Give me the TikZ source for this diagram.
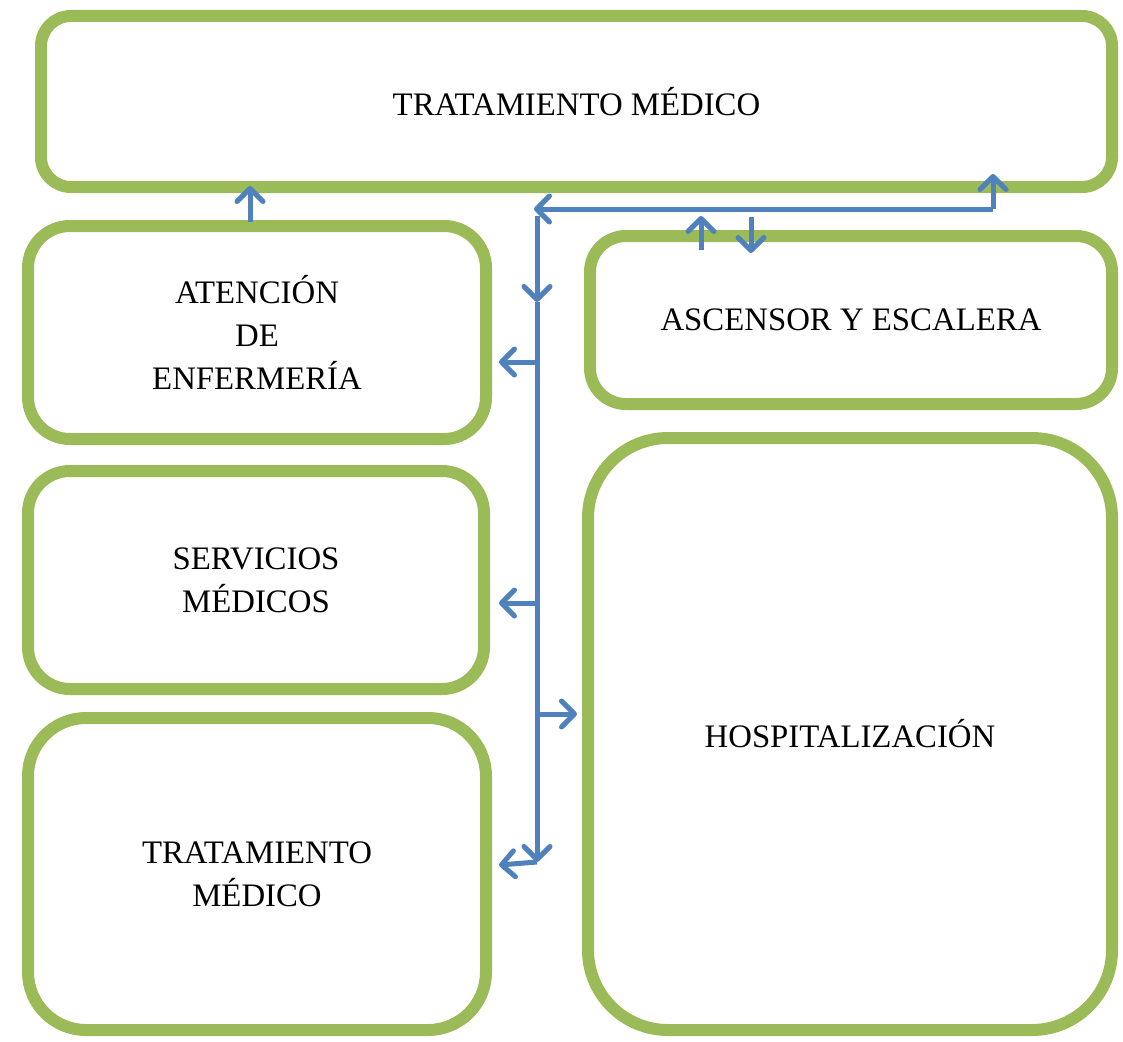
\documentclass[tikz,border=0pt]{standalone}
\usepackage{fontspec}
\setmainfont{Liberation Serif}
\usetikzlibrary{arrows.meta}
\definecolor{boxgreen}{RGB}{155,187,89}
\definecolor{arrowblue}{RGB}{79,129,189}
\tikzset{
  room/.style={draw=boxgreen, line width=12pt, align=center, inner sep=0pt,
    font=\fontsize{32.8}{43}\selectfont},
  flow/.style={draw=arrowblue, line width=5pt,
    -{Straight Barb[length=13pt, width=26pt, line cap=round, line join=round]}},
  trunk/.style={draw=arrowblue, line width=5pt}
}
\begin{document}
\begin{tikzpicture}[x=1pt, y=-1pt]
\useasboundingbox (0,0) rectangle (1123,1041);
% boxes
\node[room, rounded corners=30pt, minimum width=1071pt, minimum height=171pt] (top) at (576.5,101.5) {TRATAMIENTO MÉDICO};
\node[room, rounded corners=42pt, minimum width=458pt, minimum height=213pt] (aten) at (257,332.5) {ATENCIÓN\\DE\\ENFERMERÍA};
\node[room, rounded corners=42pt, minimum width=456pt, minimum height=218pt] (serv) at (256,580) {SERVICIOS\\MÉDICOS};
\node[room, rounded corners=58pt, minimum width=458pt, minimum height=312pt] (trat) at (257,874) {TRATAMIENTO\\MÉDICO};
\node[room, rounded corners=36pt, minimum width=522pt, minimum height=168pt] (asc) at (851,320) {ASCENSOR Y ESCALERA};
\node[room, rounded corners=80pt, minimum width=524pt, minimum height=592pt] (hosp) at (850,734) {HOSPITALIZACIÓN};
% coordinates
\coordinate (r1) at (993,209);
\coordinate (r1tip) at (993,174);
\coordinate (l1tip) at (534,209);
\coordinate (v0) at (537,216);
\coordinate (v1) at (537,302);
\coordinate (v2) at (537,862);
\coordinate (a1) at (537,362);
\coordinate (a1tip) at (499,362);
\coordinate (a2) at (537,603);
\coordinate (a2tip) at (499,603);
\coordinate (a3) at (537,714);
\coordinate (a3tip) at (577,714);
\coordinate (a4tip) at (499,865);
\coordinate (u1a) at (701,250);
\coordinate (u1b) at (701,216);
\coordinate (d1a) at (751,217);
\coordinate (d1b) at (751,253);
\coordinate (t1a) at (250,222);
\coordinate (t1b) at (250,186);
% connectors
\draw[flow] (r1) -- (l1tip);
\draw[flow] (r1) -- (r1tip);
\draw[flow] (v0) -- (v1);
\draw[flow] (v1) -- (v2);
\draw[flow] (a1) -- (a1tip);
\draw[flow] (a2) -- (a2tip);
\draw[flow] (a3) -- (a3tip);
\draw[flow] (v2) -- (a4tip);
\draw[flow] (u1a) -- (u1b);
\draw[flow] (d1a) -- (d1b);
\draw[flow] (t1a) -- (t1b);
\end{tikzpicture}
\end{document}
